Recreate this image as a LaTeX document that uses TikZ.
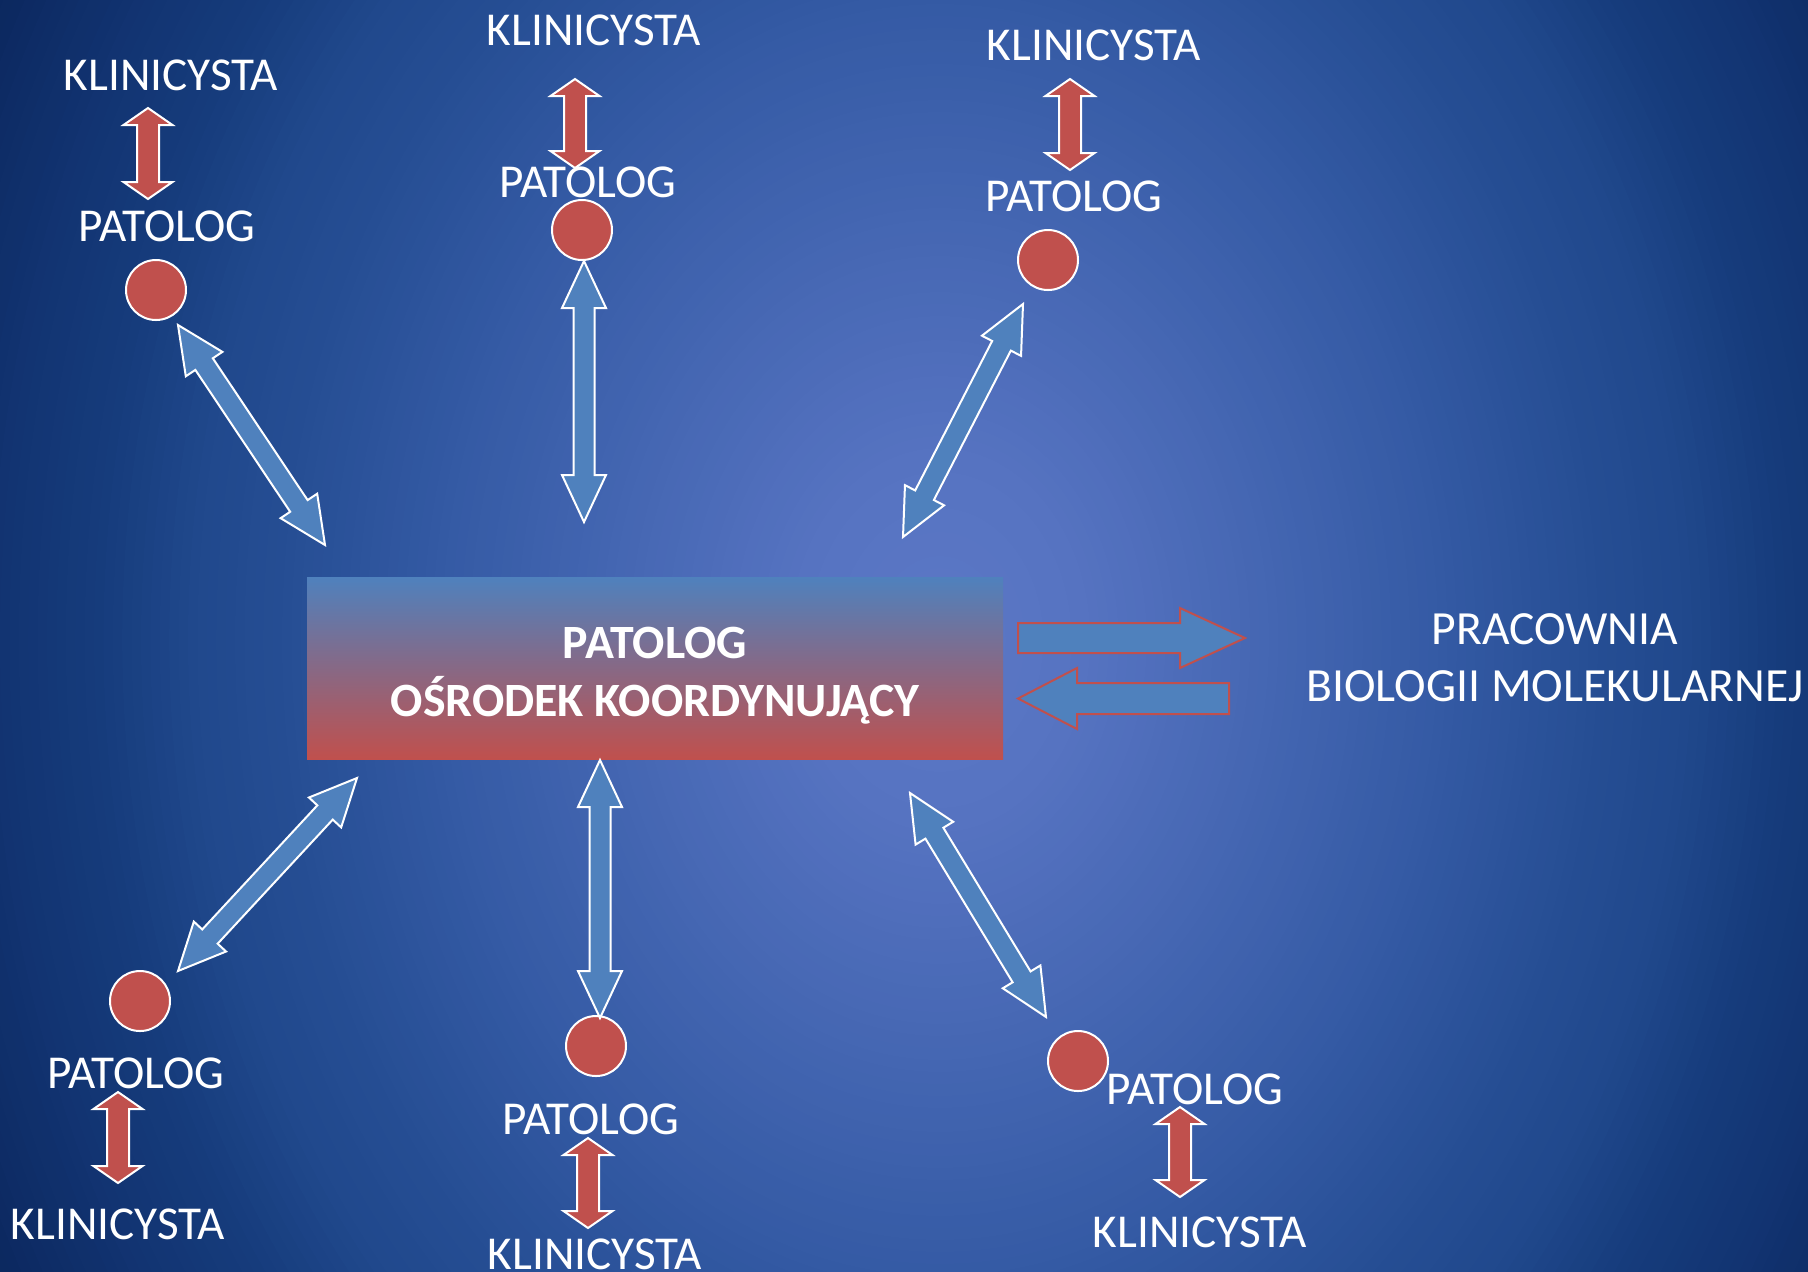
\documentclass[tikz,border=0pt]{standalone}
\usepackage{fontspec}
\setmainfont{Carlito}
\usetikzlibrary{calc}

\definecolor{accblue}{RGB}{79,129,189}
\definecolor{accred}{RGB}{192,80,77}
% colours of the background glow, from its centre outwards
\definecolor{g0}{RGB}{92,120,198}
\definecolor{g1}{RGB}{86,115,193}
\definecolor{g2}{RGB}{68,102,178}
\definecolor{g3}{RGB}{52,90,164}
\definecolor{g4}{RGB}{38,78,148}
\definecolor{g5}{RGB}{32,72,140}
\definecolor{g6}{RGB}{22,60,124}
\definecolor{g7}{RGB}{18,52,114}
\definecolor{g8}{RGB}{10,38,92}

% picks the two colours and the mix for glow radius #1
\newcommand\glowcol[1]{%
  \ifdim#1pt>50pt \def\ca{g7}\def\cb{g8}\def\lo{50}\def\hi{58}\else
  \ifdim#1pt>45pt \def\ca{g6}\def\cb{g7}\def\lo{45}\def\hi{50}\else
  \ifdim#1pt>40pt \def\ca{g5}\def\cb{g6}\def\lo{40}\def\hi{45}\else
  \ifdim#1pt>35pt \def\ca{g4}\def\cb{g5}\def\lo{35}\def\hi{40}\else
  \ifdim#1pt>27pt \def\ca{g3}\def\cb{g4}\def\lo{27}\def\hi{35}\else
  \ifdim#1pt>18pt \def\ca{g2}\def\cb{g3}\def\lo{18}\def\hi{27}\else
  \ifdim#1pt>8pt  \def\ca{g1}\def\cb{g2}\def\lo{8}\def\hi{18}\else
                  \def\ca{g0}\def\cb{g1}\def\lo{0}\def\hi{8}\fi\fi\fi\fi\fi\fi\fi
  \pgfmathsetmacro\mixp{min(100,max(0,(#1-\lo)/(\hi-\lo)*100))}}

% block arrow with a head at both ends: style, from, to, head length, head half-width, shaft half-width
\newcommand\twoheaded[6]{%
  \draw[#1] (#2)
    -- ($(#2)!#4!(#3)!#5!90:(#3)$)
    -- ($(#2)!#4!(#3)!#6!90:(#3)$)
    -- ($(#3)!#4!(#2)!#6!-90:(#2)$)
    -- ($(#3)!#4!(#2)!#5!-90:(#2)$)
    -- (#3)
    -- ($(#3)!#4!(#2)!#5!90:(#2)$)
    -- ($(#3)!#4!(#2)!#6!90:(#2)$)
    -- ($(#2)!#4!(#3)!#6!-90:(#3)$)
    -- ($(#2)!#4!(#3)!#5!-90:(#3)$)
    -- cycle;}

% block arrow with one head: style, tail, tip, head length, head half-width, shaft half-width
\newcommand\oneheaded[6]{%
  \draw[#1] ($(#2)!#6!90:(#3)$)
    -- ($(#3)!#4!(#2)!#6!-90:(#2)$)
    -- ($(#3)!#4!(#2)!#5!-90:(#2)$)
    -- (#3)
    -- ($(#3)!#4!(#2)!#5!90:(#2)$)
    -- ($(#3)!#4!(#2)!#6!90:(#2)$)
    -- ($(#2)!#6!-90:(#3)$)
    -- cycle;}

\tikzset{
  lbl/.style={text=white, inner sep=0pt, font=\fontsize{23.6}{28}\selectfont},
  dot/.style={circle, fill=accred, draw=white, line width=1pt, minimum size=30pt, inner sep=0pt},
  hubbox/.style={rectangle, top color=accblue, bottom color=accred, minimum width=348pt,
    minimum height=91pt, inner sep=0pt, text=white,
    font=\bfseries\fontsize{23.9}{28.5}\selectfont},
  bluelink/.style={fill=accblue, draw=white, line width=1pt, line join=miter},
  redlink/.style={fill=accred, draw=white, line width=1pt, line join=miter},
  lablink/.style={fill=accblue, draw=accred, line width=1pt, line join=miter},
}

\begin{document}
\begin{tikzpicture}[x=0.5pt, y=-0.5pt]
  \useasboundingbox (0,0) rectangle (1808,1271);
  \clip (0,0) rectangle (1808,1271);

  % background: dark navy with an elliptical glow around the hub
  \fill[g8] (0,0) rectangle (1808,1271);
  \foreach \r in {60,59.5,...,0.5}{
    \glowcol{\r}
    \pgfmathsetmacro\rx{9.4*\r}
    \pgfmathsetmacro\ry{12*\r}
    \fill[color=\cb!\mixp!\ca] (940,640) ellipse [x radius=\rx pt, y radius=\ry pt];
  }

  % central coordinating unit
  \node[hubbox] (hub) at (655,668)
    {\raisebox{0pt}[\dimexpr\height+8pt\relax][\depth]{%
      \begin{tabular}{@{}c@{}}PATOLOG\\OŚRODEK KOORDYNUJĄCY\end{tabular}}};

  % molecular biology lab
  \node[lbl, align=center, font=\fontsize{23.8}{28.5}\selectfont] (lab) at (1555,658)
    {PRACOWNIA\\BIOLOGII MOLEKULARNEJ};
  \coordinate (toA) at (1018,638);  \coordinate (toB) at (1245,638);
  \coordinate (frA) at (1229,698.5); \coordinate (frB) at (1018,698.5);
  \oneheaded{lablink}{toA}{toB}{32.5pt}{15pt}{7.5pt}
  \oneheaded{lablink}{frA}{frB}{29.5pt}{15.25pt}{7.75pt}

  % peripheral pathologists and clinicians
  \node[lbl] (k1) at (171,75)   {KLINICYSTA};
  \node[lbl] (p1) at (167,226)  {PATOLOG};
  \node[dot] (c1) at (156,290)  {};
  \node[lbl] (k2) at (594,30)   {KLINICYSTA};
  \node[lbl] (p2) at (588,182)  {PATOLOG};
  \node[dot] (c2) at (582,230)  {};
  \node[lbl] (k3) at (1094,45)  {KLINICYSTA};
  \node[lbl] (p3) at (1074,196) {PATOLOG};
  \node[dot] (c3) at (1048,260) {};
  \node[dot] (c4) at (140,1001) {};
  \node[lbl] (p4) at (136,1073) {PATOLOG};
  \node[lbl] (k4) at (118,1224) {KLINICYSTA};
  \node[dot] (c5) at (596,1046) {};
  \node[lbl] (p5) at (591,1119) {PATOLOG};
  \node[lbl] (k5) at (595,1254) {KLINICYSTA};
  \node[dot] (c6) at (1078,1061) {};
  \node[lbl] (p6) at (1195,1089) {PATOLOG};
  \node[lbl] (k6) at (1200,1232) {KLINICYSTA};

  % links between each pathologist and the hub
  \coordinate (b1a) at (178,325);  \coordinate (b1b) at (325,545);
  \coordinate (b2a) at (584,261);  \coordinate (b2b) at (584,522);
  \coordinate (b3a) at (1023,304); \coordinate (b3b) at (903,537);
  \coordinate (b4a) at (357,778);  \coordinate (b4b) at (178,971);
  \coordinate (b5a) at (600,760);  \coordinate (b5b) at (600,1018);
  \coordinate (b6a) at (910,793);  \coordinate (b6b) at (1046,1017);
  \foreach \i in {1,...,6}{\twoheaded{bluelink}{b\i a}{b\i b}{23.5pt}{11pt}{5.25pt}}

  % links between each pathologist and the clinician
  \coordinate (r1a) at (148,108);  \coordinate (r1b) at (148,199);
  \coordinate (r2a) at (575,79);   \coordinate (r2b) at (575,168);
  \coordinate (r3a) at (1070,79);  \coordinate (r3b) at (1070,170);
  \coordinate (r4a) at (118,1092); \coordinate (r4b) at (118,1183);
  \coordinate (r5a) at (588,1138); \coordinate (r5b) at (588,1228);
  \coordinate (r6a) at (1180,1107); \coordinate (r6b) at (1180,1197);
  \foreach \i in {1,...,6}{\twoheaded{redlink}{r\i a}{r\i b}{8.5pt}{12.25pt}{5.5pt}}
\end{tikzpicture}
\end{document}
